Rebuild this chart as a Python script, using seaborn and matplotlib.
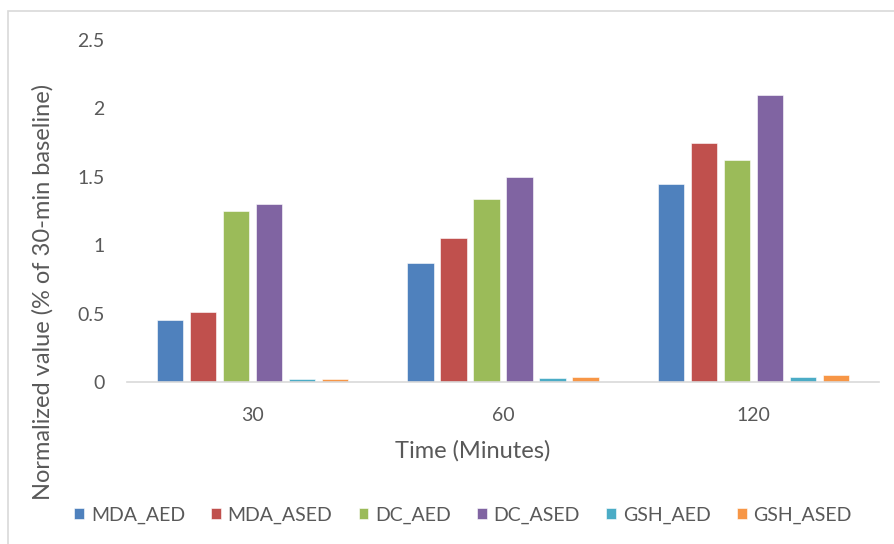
import matplotlib
matplotlib.use("Agg")
import matplotlib.pyplot as plt
from matplotlib.patches import Rectangle
import seaborn as sns
import pandas as pd

# Time points (minutes) and series
times = ["30", "60", "120"]
series = ["MDA_AED", "MDA_ASED", "DC_AED", "DC_ASED", "GSH_AED", "GSH_ASED"]

mda_aed = [0.45, 0.87, 1.45]
mda_ased = [0.51, 1.05, 1.75]
dc_aed = [1.25, 1.34, 1.62]
dc_ased = [1.30, 1.50, 2.10]
gsh_aed = [0.02, 0.03, 0.04]
gsh_ased = [0.02, 0.035, 0.05]

colors = ["#4F81BD", "#C0504D", "#9BBB59", "#8064A2", "#4BACC6", "#F79646"]
yticks = [0, 0.5, 1, 1.5, 2, 2.5]
ytick_labels = ["0", "0.5", "1", "1.5", "2", "2.5"]

values = [mda_aed, mda_ased, dc_aed, dc_ased, gsh_aed, gsh_ased]
rows = []
for name, vals in zip(series, values):
    for t, v in zip(times, vals):
        rows.append({"Time": t, "Series": name, "Value": v})
df = pd.DataFrame(rows)

sns.set_theme(style="white")
plt.rcParams["font.family"] = ["Lato", "DejaVu Sans"]
text_color = "#595959"

W, H = 894, 544
fig = plt.figure(figsize=(W / 100, H / 100), dpi=100)
ax = fig.add_axes([127 / W, 1 - 382 / H, (879 - 127) / W, (382 - 40) / H])

sns.barplot(
    data=df, x="Time", y="Value", hue="Series",
    order=times, hue_order=series, palette=colors,
    width=0.79, gap=0.21, ax=ax, errorbar=None,
    edgecolor="white", linewidth=0.4, saturation=1,
)

ax.set_ylim(0, 2.5)
ax.set_xlim(-0.5, 2.5)
ax.set_yticks(yticks)
ax.set_yticklabels(ytick_labels)
ax.tick_params(axis="y", length=0, pad=16, labelsize=14, labelcolor=text_color)
ax.tick_params(axis="x", length=0, pad=18, labelsize=14, labelcolor=text_color)
for s in ["left", "right", "top"]:
    ax.spines[s].set_visible(False)
ax.spines["bottom"].set_color("#D9D9D9")
ax.spines["bottom"].set_linewidth(1.2)
ax.grid(False)

ax.set_xlabel("Time (Minutes)", fontsize=17, color=text_color)
ax.set_ylabel("Normalized value (% of 30-min baseline)", fontsize=17,
              color=text_color)
ax.xaxis.set_label_coords((473 - 127) / 752, -(451 - 382) / 342, transform=ax.transAxes)
ax.xaxis.label.set_va("center")
ax.yaxis.set_label_coords((43 - 127) / 752, (382 - 292) / 342, transform=ax.transAxes)
ax.yaxis.label.set_va("center")

handles, labels = ax.get_legend_handles_labels()
if ax.legend_:
    ax.legend_.remove()
fig.legend(handles, labels, loc="center", bbox_to_anchor=(463 / W, 1 - 515 / H),
           ncol=6, frameon=False, fontsize=14, labelcolor=text_color,
           handlelength=0.5, handleheight=0.5, handletextpad=0.35,
           columnspacing=1.35)

# Chart area frame
fig.patches.append(Rectangle((8 / W, -0.05), 1.0, 1 - 11 / H + 0.05,
                             transform=fig.transFigure, fill=False,
                             edgecolor="#D9D9D9", linewidth=1.2))

fig.savefig("out.png", dpi=100)
